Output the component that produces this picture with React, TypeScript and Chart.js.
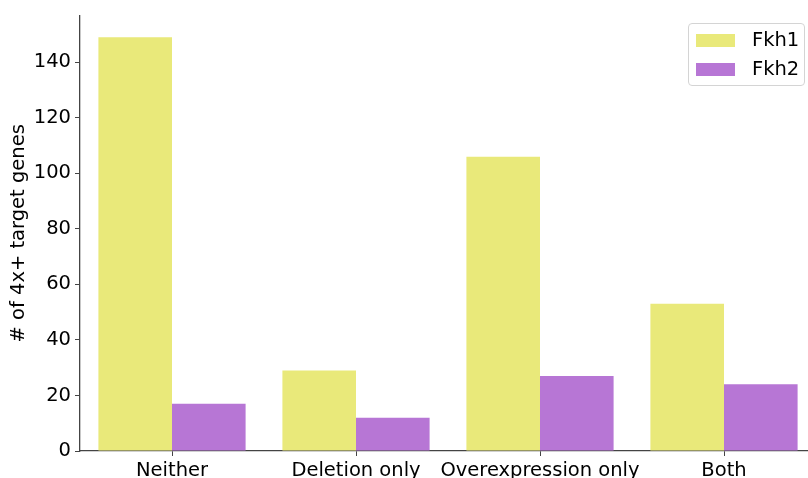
import React, { useEffect, useRef } from "react";
import { Chart, registerables } from "chart.js";

Chart.register(...registerables);

const categories = ["Neither", "Deletion only", "Overexpression only", "Both"];
const fkh1Values = [149, 29, 106, 53];
const fkh2Values = [17, 12, 27, 24];
const seriesNames = ["Fkh1", "Fkh2"];
const seriesColors = ["#e9e97a", "#b776d5"];
const yTitle = "# of 4x+ target genes";

const FONT = "'DejaVu Sans', sans-serif";
const FS = 19.5;

export default function App() {
  const ref = useRef<HTMLCanvasElement>(null);
  useEffect(() => {
    const ctx = ref.current!;
    const chart = new Chart(ctx, {
      type: "bar",
      data: {
        labels: categories,
        datasets: [
          { label: seriesNames[0], data: fkh1Values, backgroundColor: seriesColors[0], borderWidth: 0, categoryPercentage: 0.8, barPercentage: 1.0 },
          { label: seriesNames[1], data: fkh2Values, backgroundColor: seriesColors[1], borderWidth: 0, categoryPercentage: 0.8, barPercentage: 1.0 },
        ],
      },
      options: {
        responsive: false,
        animation: false,
        devicePixelRatio: 1,
        layout: { padding: { top: 13, right: 0, left: 0, bottom: 0 } },
        plugins: { legend: { display: false }, tooltip: { enabled: false } },
        scales: {
          x: {
            offset: true,
            grid: { offset: false, drawOnChartArea: false, drawTicks: true, tickLength: 5, color: "#444" },
            border: { display: true, color: "#444", width: 1.3 },
            ticks: { font: { family: FONT, size: FS }, color: "#000", padding: 3, maxRotation: 0, autoSkip: false },
            afterFit: (s: any) => { s.height = 27; },
          },
          y: {
            min: 0,
            max: 156.8,
            grid: { drawOnChartArea: false, drawTicks: true, tickLength: 5, color: "#444" },
            border: { display: true, color: "#444", width: 1.3 },
            ticks: { stepSize: 20, includeBounds: false, font: { family: FONT, size: FS }, color: "#000", padding: 4 },
            title: { display: true, text: yTitle, font: { family: FONT, size: FS }, color: "#000", padding: { top: 7, bottom: 0 } },
            afterFit: (s: any) => { s.width = 80; },
          },
        },
      },
    });
    return () => chart.destroy();
  }, []);

  return (
    <div style={{ position: "absolute", left: 0, top: 0, width: 808, height: 478, overflow: "hidden", background: "#fff" }}>
      <canvas ref={ref} width={816} height={478} style={{ display: "block", width: 816, height: 478 }} />
      <div
        style={{
          position: "absolute",
          left: 688,
          top: 23,
          width: 117,
          height: 63,
          border: "1px solid #d4d4d4",
          borderRadius: 4,
          background: "rgba(255,255,255,0.85)",
          boxSizing: "border-box",
          fontFamily: FONT,
          fontSize: FS,
          color: "#000",
        }}
      >
        {seriesNames.map((n, i) => (
          <div key={n} style={{ position: "absolute", left: 7, top: 9 + i * 29, height: 14, display: "flex", alignItems: "center" }}>
            <div style={{ width: 39, height: 13, background: seriesColors[i] }} />
            <span style={{ marginLeft: 17, lineHeight: "14px" }}>{n}</span>
          </div>
        ))}
      </div>
    </div>
  );
}
